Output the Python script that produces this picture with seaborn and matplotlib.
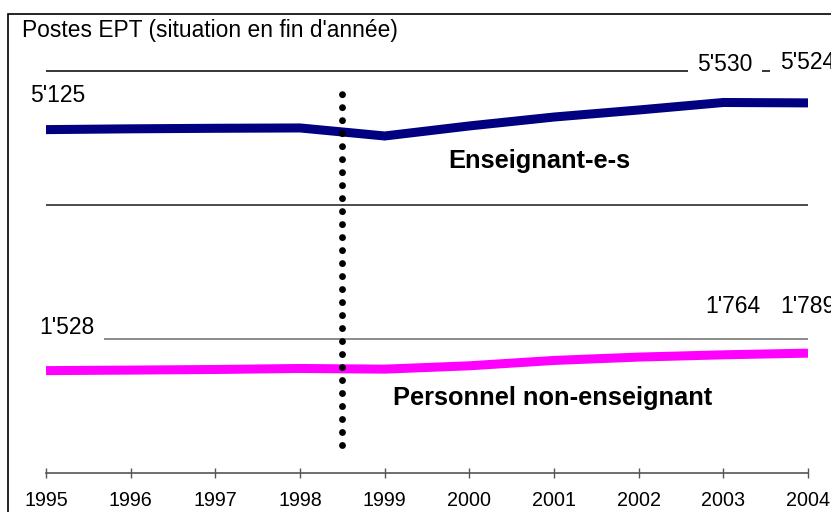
import pandas as pd
import matplotlib.pyplot as plt
import matplotlib.patches as patches
import seaborn as sns

# Valeurs (postes EPT, fin d'année)
years = [1995, 1996, 1997, 1998, 1999, 2000, 2001, 2002, 2003, 2004]
enseignants = [5125, 5137, 5145, 5150, 5030, 5180, 5313, 5418, 5530, 5524]
non_enseignants = [1528, 1536, 1545, 1560, 1550, 1600, 1680, 1730, 1764, 1789]
series_names = ["Enseignant-e-s", "Personnel non-enseignant"]
series_colors = ["#000080", "#FF00FF"]
grid_values = [6000, 4000, 2000]
grid_colors = ["#000000", "#1a1a1a", "#6e6e6e"]
break_year = 1998.5

df = pd.DataFrame({
    "Année": years * 2,
    "EPT": enseignants + non_enseignants,
    "Série": [series_names[0]] * len(years) + [series_names[1]] * len(years),
})

sns.set_theme(style="white")
plt.rcParams["font.family"] = ["Liberation Sans", "DejaVu Sans"]
plt.rcParams["text.color"] = "black"
plt.rcParams["xtick.color"] = "black"

fig = plt.figure(figsize=(8.31, 5.12), dpi=100)
ax = fig.add_axes([46 / 831, 39 / 512, 762 / 831, 469 / 512])

# cadre autour de la figure (coupé à droite et en bas)
fig.patches.append(patches.Rectangle((8 / 831, -0.1), 1.2, (512 - 14) / 512 + 0.1,
                                     transform=fig.transFigure, fill=False,
                                     edgecolor="black", linewidth=1.2, zorder=0))

for val, col in zip(grid_values, grid_colors):
    ax.axhline(val, color=col, linewidth=1.1, zorder=1)

sns.lineplot(data=df, x="Année", y="EPT", hue="Série",
             palette=dict(zip(series_names, series_colors)),
             linewidth=6.5, legend=False, ax=ax, zorder=3)
for line in ax.lines[len(grid_values):]:
    line.set_solid_capstyle("butt")
    line.set_solid_joinstyle("miter")

# ligne pointillée verticale (rupture de série)
ax.plot([break_year, break_year], [418, 5800], color="black", linewidth=5,
        linestyle=(0, (0.001, 1.87)), dash_capstyle="round", zorder=4)

box = dict(facecolor="white", edgecolor="none", pad=7)
num_fs = 16.5
ax.text(1995.14, 5627, "5'125", fontsize=num_fs, ha="center", va="center", zorder=5)
ax.text(2003.02, 6104, "5'530", fontsize=num_fs, ha="center", va="center", bbox=box, zorder=5)
ax.text(2003.67, 6134, "5'524", fontsize=num_fs, ha="left", va="center", bbox=box, zorder=5)
ax.text(1995.25, 2179, "1'528", fontsize=num_fs, ha="center", va="center", bbox=box, zorder=5)
ax.text(2003.11, 2478, "1'764", fontsize=num_fs, ha="center", va="center", zorder=5)
ax.text(2003.67, 2478, "1'789", fontsize=num_fs, ha="left", va="center", zorder=5)

ax.text(1999.75, 4657, series_names[0], fontsize=18.3, fontweight="bold", ha="left", va="center")
ax.text(1999.1, 1119, series_names[1], fontsize=18.3, fontweight="bold", ha="left", va="center")

fig.text(22 / 831, 1 - 31 / 512, "Postes EPT (situation en fin d'année)", fontsize=16.4,
         ha="left", va="center")

ax.set_xlim(1995, 2004)
ax.set_ylim(0, 7000)
ax.set_xticks(years)
ax.set_xticklabels([str(y) for y in years])
ax.set_yticks([])
ax.set_xlabel("")
ax.set_ylabel("")
for side in ["left", "right", "top"]:
    ax.spines[side].set_visible(False)
ax.spines["bottom"].set_color("#555555")
ax.spines["bottom"].set_linewidth(1.2)
ax.tick_params(axis="x", direction="inout", length=7.5, width=1, color="#555555",
               labelcolor="black", labelsize=14.2, pad=9, bottom=True)
ax.patch.set_alpha(0)

fig.savefig("out.png", dpi=100, facecolor="white")
